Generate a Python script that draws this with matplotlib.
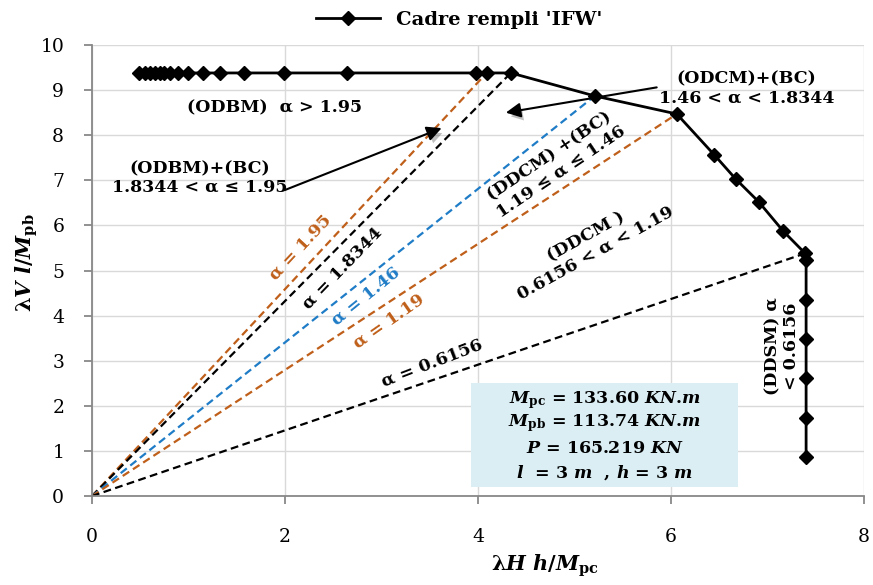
import matplotlib
matplotlib.use("Agg")
import matplotlib.pyplot as plt
import matplotlib.patheffects as pe
from matplotlib.patches import Rectangle

plt.rcParams['font.family'] = ['DejaVu Serif']
plt.rcParams['mathtext.fontset'] = 'custom'
plt.rcParams['mathtext.rm'] = 'DejaVu Serif:bold'
plt.rcParams['mathtext.it'] = 'DejaVu Serif:italic:bold'
plt.rcParams['mathtext.bf'] = 'DejaVu Serif:bold'

# Capacity curve of the infilled frame
curve_x = [0.49, 0.55, 0.60, 0.65, 0.70, 0.75, 0.81, 0.89, 0.99, 1.15, 1.33, 1.57,
           1.99, 2.64, 3.98, 4.09, 4.34, 5.21, 6.06, 6.45, 6.67, 6.91, 7.16, 7.39,
           7.40, 7.40, 7.40, 7.40, 7.40, 7.40]
curve_y = [9.38, 9.38, 9.38, 9.38, 9.38, 9.38, 9.38, 9.38, 9.38, 9.38, 9.38, 9.38,
           9.38, 9.38, 9.38, 9.38, 9.38, 8.87, 8.47, 7.56, 7.03, 6.52, 5.88, 5.38,
           5.23, 4.35, 3.48, 2.62, 1.73, 0.86]
series_label = "Cadre rempli 'IFW'"

# Alpha boundary rays from the origin to the curve
alpha_labels = ['1.95', '1.8344', '1.46', '1.19', '0.6156']
alpha_end_x = [4.09, 4.34, 5.21, 6.06, 7.39]
alpha_end_y = [9.38, 9.38, 8.87, 8.47, 5.38]

x_ticks = [0, 2, 4, 6, 8]
y_ticks = [0, 1, 2, 3, 4, 5, 6, 7, 8, 9, 10]

brown = '#BF5F1A'
blue = '#1F7CC6'
ray_colors = [brown, 'black', blue, brown, 'black']
# label centre (data), rotation (deg)
ray_label_pos = [(2.16, 5.52, 47), (2.60, 5.05, 46), (2.84, 4.43, 39),
                 (3.08, 3.88, 35), (3.52, 2.95, 21)]

fig = plt.figure(figsize=(8.73, 5.85), dpi=100)
ax = fig.add_axes([0.1054, 0.1521, 0.8843, 0.771])

for lab, ex, ey, col, (tx, ty, rot) in zip(alpha_labels, alpha_end_x, alpha_end_y,
                                            ray_colors, ray_label_pos):
    ax.plot([0, ex], [0, ey], linestyle=(0, (3.5, 2.0)), lw=1.6, color=col, zorder=2)
    ax.text(tx, ty, 'α = ' + lab, color=col, rotation=rot, ha='center', va='center',
            fontsize=12.5, fontweight='bold', rotation_mode='anchor', zorder=4)

line, = ax.plot(curve_x, curve_y, color='black', lw=2, marker='D', ms=7,
                label=series_label, zorder=5)

ax.set_xlim(0, 8)
ax.set_ylim(0, 10)
ax.set_xticks(x_ticks)
ax.set_yticks(y_ticks)
ax.grid(True, color='#D9D9D9', lw=1)
ax.set_axisbelow(True)
for s in ['top', 'right']:
    ax.spines[s].set_visible(False)
for s in ['left', 'bottom']:
    ax.spines[s].set_color('#888888')
    ax.spines[s].set_linewidth(1.3)
ax.tick_params(axis='both', direction='out', length=6, width=1.3, color='#888888',
               labelsize=13.5)
ax.tick_params(axis='x', pad=17)
ax.tick_params(axis='y', pad=14)

ax.set_xlabel(r'$\mathrm{\lambda}H\ h/M_{\mathrm{pc}}$', fontsize=15)
ax.xaxis.set_label_coords(0.587, -0.125)
ax.set_ylabel(r'$\mathrm{\lambda}V\ l/M_{\mathrm{pb}}$', fontsize=15)
ax.yaxis.set_label_coords(-0.067, 0.517)

tkw = dict(fontsize=12.5, fontweight='bold', ha='center', va='center', zorder=6)
ax.text(1.89, 8.60, '(ODBM)  α > 1.95', **tkw)
ax.text(6.78, 9.03, '(ODCM)+(BC)\n1.46 < α < 1.8344', linespacing=1.15, **tkw)
ax.text(1.12, 7.05, '(ODBM)+(BC)\n1.8344 < α ≤ 1.95', linespacing=1.15, **tkw)
ax.text(4.80, 7.36, '(DDCM) +(BC)\n1.19 ≤ α ≤ 1.46', rotation=34,
        rotation_mode='anchor', linespacing=1.15, **tkw)
ax.text(5.17, 5.57, '(DDCM )\n0.6156 < α < 1.19', rotation=29,
        rotation_mode='anchor', linespacing=1.15, **tkw)
ax.text(7.15, 3.33, '(DDSM) α\n< 0.6156', rotation=90,
        rotation_mode='anchor', linespacing=1.15, **tkw)

arrow_kw = dict(arrowstyle='-|>', color='black', lw=1.5, mutation_scale=22)
a1 = ax.annotate('', xy=(4.26, 8.49), xytext=(5.88, 9.07), arrowprops=arrow_kw, zorder=6)
a2 = ax.annotate('', xy=(3.65, 8.18), xytext=(1.97, 6.76), arrowprops=arrow_kw, zorder=6)
for a in (a1, a2):
    a.arrow_patch.set_path_effects([pe.SimplePatchShadow(offset=(2, -3), alpha=0.25),
                                    pe.Normal()])

# Section properties box
ax.add_patch(Rectangle((3.93, 0.20), 2.76, 2.31, facecolor='#DAEEF3',
                       edgecolor='none', zorder=3))
box_lines = [r'$M_{\mathrm{pc}}$ = 133.60 $KN$.$m$',
             r'$M_{\mathrm{pb}}$ = 113.74 $KN$.$m$',
             r'$P$ = 165.219 $KN$',
             r'$l$  = 3 $m$  , $h$ = 3 $m$']
box_y = [2.13, 1.62, 1.06, 0.51]
for txt, yy in zip(box_lines, box_y):
    ax.text(5.31, yy, txt, fontsize=12.5, fontweight='bold', ha='center',
            va='center', zorder=4)

fig.legend(handles=[line], loc='center', bbox_to_anchor=(0.526, 0.966),
           frameon=False, prop=dict(weight='bold', size=14), handlelength=3.3)

fig.savefig('out.png', dpi=100)
